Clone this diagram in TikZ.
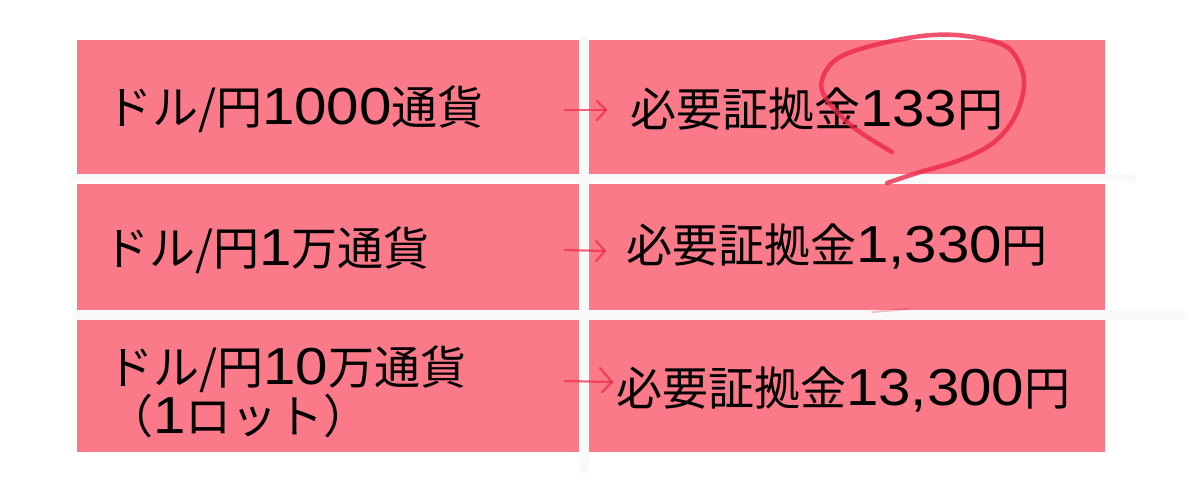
\documentclass[tikz,border=0pt]{standalone}
\usepackage{fontspec}
\usepackage{graphicx}
\newfontfamily\jpfont{Noto Sans CJK JP}
\newfontfamily\dgfont{Liberation Sans}
\newcommand\digs[1]{\scalebox{1.12}[1]{\dgfont\fontsize{52}{52}\selectfont #1}}
\definecolor{boxpink}{RGB}{250,122,137}
\definecolor{crayon}{RGB}{236,40,72}
\definecolor{gapwhite}{RGB}{250,249,250}
\begin{document}
\begin{tikzpicture}[x=1pt,y=-1pt,
 cell/.style={fill=boxpink, draw=none, anchor=north west, inner sep=0pt, outer sep=0pt},
 txt/.style={anchor=base west, inner sep=0pt, font=\jpfont\fontsize{46}{46}\selectfont, text=black},
 arr/.style={draw=crayon, line width=2.2pt, opacity=0.7, line cap=round, line join=round},
 circ/.style={draw=crayon, line width=4.5pt, opacity=0.8, line cap=round, line join=round},
 gapline/.style={draw=gapwhite, line width=9pt, line cap=round}]
\useasboundingbox (0,0) rectangle (1200,500);
% faint white gap extensions
\coordinate (g1a) at (72,179); \coordinate (g1b) at (1132,179);
\coordinate (g2a) at (77,315); \coordinate (g2b) at (1183,315);
\coordinate (gva) at (584,40); \coordinate (gvb) at (584,469);
\draw[gapline] (g1a) -- (g1b);
\draw[gapline] (g2a) -- (g2b);
\draw[gapline] (gva) -- (gvb);
% cells
\node[cell, minimum width=502pt, minimum height=134pt] (L1) at (77,40) {};
\node[cell, minimum width=516pt, minimum height=134pt] (R1) at (589,40) {};
\node[cell, minimum width=502pt, minimum height=126pt] (L2) at (77,184) {};
\node[cell, minimum width=516pt, minimum height=126pt] (R2) at (589,184) {};
\node[cell, minimum width=502pt, minimum height=132pt] (L3) at (77,320) {};
\node[cell, minimum width=516pt, minimum height=132pt] (R3) at (589,320) {};
% texts
\node[txt] (tL1) at (106,125) {ドル/円\digs{1000}通貨};
\node[txt] (tL2) at (103,265) {ドル/円\digs{1}万通貨};
\node[txt, align=left] (tL3) at (107,433) {ドル/円\digs{10}万通貨\\（\digs{1}ロット）};
\node[txt] (tR1) at (630,127) {必要証拠金\digs{133}円};
\node[txt] (tR2) at (626,262) {必要証拠金\digs{1,330}円};
\node[txt] (tR3) at (616,405) {必要証拠金\digs{13,300}円};
% arrows
\coordinate (a1s) at (565,110); \coordinate (a1e) at (606,110);
\coordinate (a2s) at (565,250); \coordinate (a2e) at (605,251);
\coordinate (a3s) at (565,381); \coordinate (a3e) at (612,382);
\draw[arr] (a1s) -- (a1e);
\draw[arr] (a1e) ++(-9,-9) -- (a1e) -- ++(-9,10);
\draw[arr] (a2s) -- (a2e);
\draw[arr] (a2e) ++(-9,-10) -- (a2e) -- ++(-9,10);
\draw[arr] (a3s) -- (a3e);
\draw[arr] (a3e) ++(-12,-14) -- (a3e) -- ++(-10,10);
% red circle scribble
\draw[circ] plot[smooth, tension=0.6] coordinates {(892,152) (853,127) (825,97) (823,77) (840,57) (883,43) (933,35) (973,37) (1007,47) (1022,70) (1023,93) (1013,120) (993,143) (960,160) (917,173) (887,183)};
\draw[draw=crayon, opacity=0.3, line width=2pt, line cap=round] (872,312) -- (908,309);
\end{tikzpicture}
\end{document}
